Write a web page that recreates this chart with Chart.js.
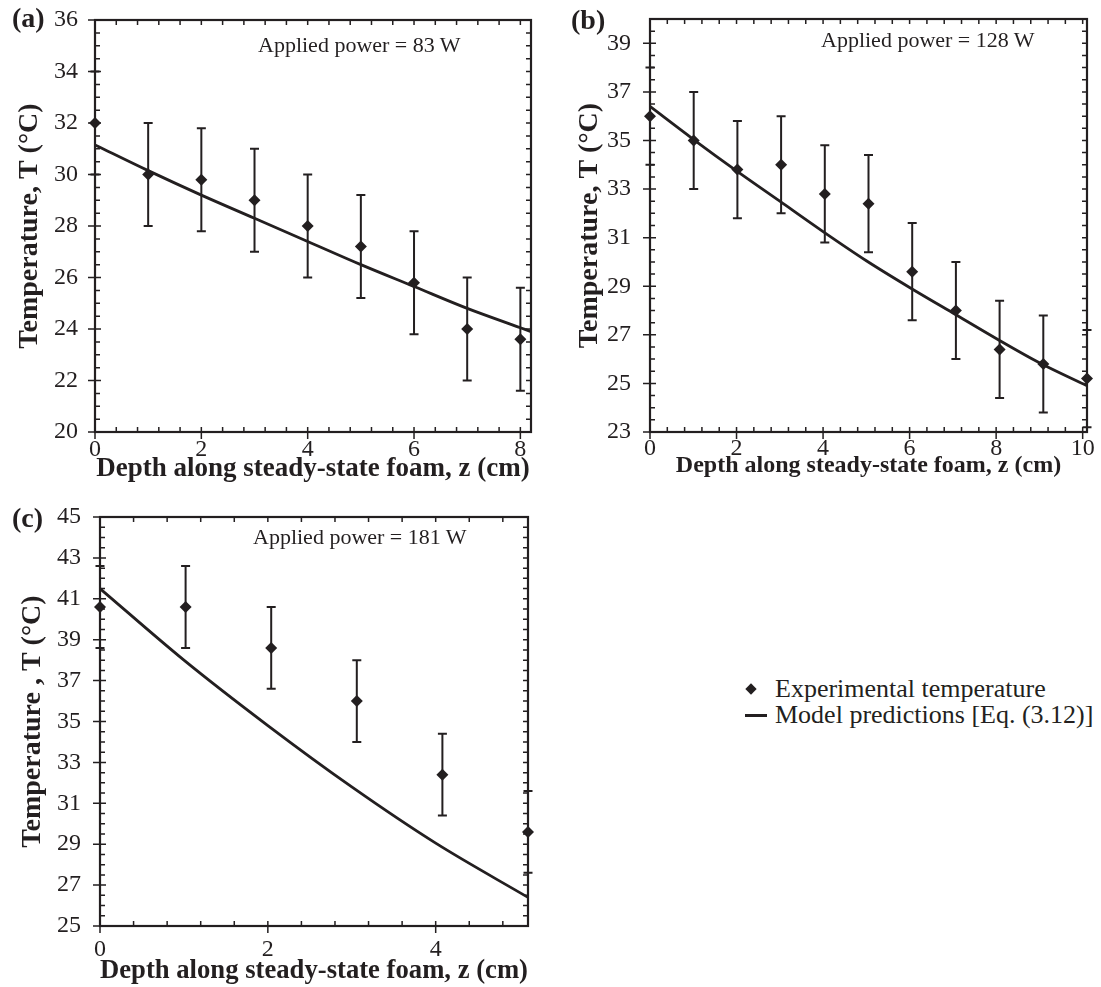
<!DOCTYPE html>
<html>
<head>
<meta charset="utf-8">
<script src="https://cdn.jsdelivr.net/npm/chart.js@4/dist/chart.umd.min.js"></script>
<style>
  html, body { margin: 0; padding: 0; background: #fff; }
  body { width: 1101px; height: 987px; position: relative; overflow: hidden;
         font-family: "Liberation Serif", "Times New Roman", serif; color: #231f20; }
  .panel { position: absolute; }
  .panel canvas { display: block; }
  .tag { position: absolute; font-weight: bold; font-size: 28px; line-height: 1; white-space: nowrap; }
  .note { position: absolute; font-size: 22px; line-height: 1; white-space: nowrap; }
  .legend { position: absolute; left: 740px; top: 676px; font-size: 26px; line-height: 26px; white-space: nowrap; }
  .legend .row { position: relative; padding-left: 35px; height: 26px; }
  .legend .diamond { position: absolute; left: 7px; top: 9px; width: 8px; height: 8px;
                     background: #231f20; transform: rotate(45deg); }
  .legend .stroke { position: absolute; left: 5px; top: 12px; width: 22px; height: 2.5px; background: #231f20; }
</style>
</head>
<body>

<div class="panel" style="left:0;top:0;"><canvas id="chartA" width="545" height="490"></canvas></div>
<div class="panel" style="left:545px;top:0;"><canvas id="chartB" width="556" height="490"></canvas></div>
<div class="panel" style="left:0;top:490px;"><canvas id="chartC" width="545" height="497"></canvas></div>

<div class="tag" style="left:12px;top:4px;">(a)</div>
<div class="tag" style="left:571px;top:6px;">(b)</div>
<div class="tag" style="left:12px;top:504px;">(c)</div>

<div class="note" style="left:258px;top:34px;">Applied power = 83 W</div>
<div class="note" style="left:821px;top:29px;">Applied power = 128 W</div>
<div class="note" style="left:253px;top:526px;">Applied power = 181 W</div>

<div class="legend">
  <div class="row"><span class="diamond"></span>Experimental temperature</div>
  <div class="row"><span class="stroke"></span>Model predictions [Eq. (3.12)]</div>
</div>

<script>
const INK = '#231f20';
const FONT = "'Liberation Serif', 'Times New Roman', serif";

// (a) applied power 83 W
const depthA = [0, 1, 2, 3, 4, 5, 6, 7, 8];
const tempA = [32.0, 30.0, 29.8, 29.0, 28.0, 27.2, 25.8, 24.0, 23.6];
const errA = [2, 2, 2, 2, 2, 2, 2, 2, 2];
const modelDepthA = [0, 1, 2, 3, 4, 5, 6, 7, 8, 8.2];
const modelTempA = [31.15, 30.15, 29.2, 28.3, 27.4, 26.5, 25.65, 24.8, 24.05, 23.9];
const xTicksA = [0, 2, 4, 6, 8];
const yTicksA = [20, 22, 24, 26, 28, 30, 32, 34, 36];

// (b) applied power 128 W
const depthB = [0, 1.01, 2.02, 3.03, 4.04, 5.05, 6.06, 7.07, 8.08, 9.09, 10.1];
const tempB = [36.0, 35.0, 33.8, 34.0, 32.8, 32.4, 29.6, 28.0, 26.4, 25.8, 25.2];
const errB = [2, 2, 2, 2, 2, 2, 2, 2, 2, 2, 2];
const modelDepthB = [0, 1, 2, 3, 4, 5, 6, 7, 8, 9, 10.1];
const modelTempB = [36.4, 35.05, 33.75, 32.5, 31.25, 30.05, 28.95, 27.9, 26.85, 25.85, 24.9];
const xTicksB = [0, 2, 4, 6, 8, 10];
const yTicksB = [23, 25, 27, 29, 31, 33, 35, 37, 39];

// (c) applied power 181 W
const depthC = [0, 1.02, 2.04, 3.06, 4.08, 5.1];
const tempC = [40.6, 40.6, 38.6, 36.0, 32.4, 29.6];
const errC = [2, 2, 2, 2, 2, 2];
const modelDepthC = [0, 1, 2, 3, 4, 5.1];
const modelTempC = [41.5, 38.0, 34.8, 31.8, 29.05, 26.4];
const xTicksC = [0, 2, 4];
const yTicksC = [25, 27, 29, 31, 33, 35, 37, 39, 41, 43, 45];

function stepValues(min, max, step) {
  const out = [];
  for (let k = Math.ceil(min / step - 1e-6); k * step <= max + 1e-6; k++) {
    out.push(Math.round(k * step * 1000) / 1000);
  }
  return out;
}

// vertical error bars with short caps, drawn underneath the markers
const errorBars = {
  id: 'errorBars',
  beforeDatasetsDraw(chart) {
    const { ctx, scales: { x, y } } = chart;
    chart.data.datasets.forEach(ds => {
      if (!ds.errors) return;
      ctx.save();
      ctx.strokeStyle = INK;
      ctx.lineWidth = 2;
      ds.data.forEach((p, j) => {
        const px = x.getPixelForValue(p.x);
        const hi = y.getPixelForValue(p.y + ds.errors[j]);
        const lo = y.getPixelForValue(p.y - ds.errors[j]);
        ctx.beginPath();
        ctx.moveTo(px, hi); ctx.lineTo(px, lo);
        ctx.moveTo(px - 4.5, hi); ctx.lineTo(px + 4.5, hi);
        ctx.moveTo(px - 4.5, lo); ctx.lineTo(px + 4.5, lo);
        ctx.stroke();
      });
      ctx.restore();
    });
  }
};

// boxed frame with inward minor ticks on all four sides and crossing major ticks
const axisFrame = {
  id: 'axisFrame',
  afterDraw(chart, args, opts) {
    const { ctx, chartArea: a, scales: { x, y } } = chart;
    ctx.save();
    ctx.strokeStyle = INK;
    ctx.lineWidth = 2.2;
    ctx.strokeRect(a.left, a.top, a.right - a.left, a.bottom - a.top);
    ctx.lineWidth = 1.5;
    ctx.beginPath();
    const seg = (x1, y1, x2, y2) => { ctx.moveTo(x1, y1); ctx.lineTo(x2, y2); };
    stepValues(x.min, x.max, opts.xMinor).forEach(v => {
      const px = x.getPixelForValue(v);
      seg(px, a.bottom - 5, px, a.bottom);
      seg(px, a.top, px, a.top + 5);
    });
    x.ticks.forEach(t => {
      const px = x.getPixelForValue(t.value);
      seg(px, a.bottom - 5, px, a.bottom + 7);
    });
    stepValues(y.min, y.max, opts.yMinor).forEach(v => {
      const py = y.getPixelForValue(v);
      seg(a.left, py, a.left + 5, py);
      seg(a.right - 5, py, a.right, py);
    });
    y.ticks.forEach(t => {
      const py = y.getPixelForValue(t.value);
      seg(a.left - 7, py, a.left + 6, py);
    });
    ctx.stroke();
    ctx.restore();
  }
};

function makePanel(id, s) {
  const points = s.depth.map((d, i) => ({ x: d, y: s.temp[i] }));
  const model = s.modelDepth.map((d, i) => ({ x: d, y: s.modelTemp[i] }));
  return new Chart(document.getElementById(id), {
    type: 'scatter',
    data: {
      datasets: [
        {
          label: 'Experimental temperature',
          data: points,
          errors: s.err,
          pointStyle: 'rectRot',
          pointRadius: 6,
          backgroundColor: INK,
          borderColor: INK,
          borderWidth: 0,
          showLine: false,
          clip: false,
          order: 0
        },
        {
          label: 'Model predictions [Eq. (3.12)]',
          data: model,
          showLine: true,
          pointRadius: 0,
          borderColor: INK,
          borderWidth: 2.8,
          cubicInterpolationMode: 'monotone',
          clip: false,
          order: 1
        }
      ]
    },
    options: {
      responsive: false,
      animation: false,
      events: [],
      layout: { padding: { top: s.padTop, right: s.padRight, left: 0, bottom: 0 } },
      plugins: {
        legend: { display: false },
        tooltip: { enabled: false },
        axisFrame: { xMinor: 0.4, yMinor: 0.5 }
      },
      scales: {
        x: {
          type: 'linear',
          min: s.xMin, max: s.xMax,
          afterBuildTicks: sc => { sc.ticks = s.xTicks.map(v => ({ value: v })); },
          afterFit: sc => { sc.height = s.xAxisH; sc.paddingLeft = 0; sc.paddingRight = 0; },
          grid: { display: false, drawTicks: false },
          border: { display: false },
          ticks: { font: { family: FONT, size: 24 }, color: INK, padding: s.xTickPad,
                   maxRotation: 0, autoSkip: false },
          title: { display: true, text: 'Depth along steady-state foam, z (cm)',
                   font: { family: FONT, size: s.xTitleSize, weight: 'bold' }, color: INK,
                   padding: { top: 0, bottom: s.xTitlePad } }
        },
        y: {
          type: 'linear',
          min: s.yMin, max: s.yMax,
          afterBuildTicks: sc => { sc.ticks = s.yTicks.map(v => ({ value: v })); },
          afterFit: sc => { sc.width = s.yAxisW; sc.paddingTop = 0; sc.paddingBottom = 0; },
          grid: { display: false, drawTicks: false },
          border: { display: false },
          ticks: { font: { family: FONT, size: 24 }, color: INK, padding: s.yTickPad, autoSkip: false },
          title: { display: true, text: s.yTitle,
                   font: { family: FONT, size: 28, weight: 'bold' }, color: INK,
                   padding: { top: s.yTitlePad, bottom: 0 } }
        }
      }
    },
    plugins: [errorBars, axisFrame]
  });
}

makePanel('chartA', {
  depth: depthA, temp: tempA, err: errA, modelDepth: modelDepthA, modelTemp: modelTempA,
  xTicks: xTicksA, yTicks: yTicksA, xMin: 0, xMax: 8.2, yMin: 20, yMax: 36,
  padTop: 20, padRight: 14, yAxisW: 95, xAxisH: 58,
  xTickPad: 3, yTickPad: 17, xTitleSize: 27, xTitlePad: 5, yTitlePad: 13,
  yTitle: 'Temperature, T (°C)'
});

makePanel('chartB', {
  depth: depthB, temp: tempB, err: errB, modelDepth: modelDepthB, modelTemp: modelTempB,
  xTicks: xTicksB, yTicks: yTicksB, xMin: 0, xMax: 10.1, yMin: 23, yMax: 40,
  padTop: 19, padRight: 14, yAxisW: 105, xAxisH: 58,
  xTickPad: 2, yTickPad: 19, xTitleSize: 24, xTitlePad: 10, yTitlePad: 28,
  yTitle: 'Temperature, T (°C)'
});

makePanel('chartC', {
  depth: depthC, temp: tempC, err: errC, modelDepth: modelDepthC, modelTemp: modelTempC,
  xTicks: xTicksC, yTicks: yTicksC, xMin: 0, xMax: 5.1, yMin: 25, yMax: 45,
  padTop: 27, padRight: 17, yAxisW: 100, xAxisH: 61,
  xTickPad: 9, yTickPad: 19, xTitleSize: 27, xTitlePad: 0, yTitlePad: 16,
  yTitle: 'Temperature , T (°C)'
});
</script>
</body>
</html>
